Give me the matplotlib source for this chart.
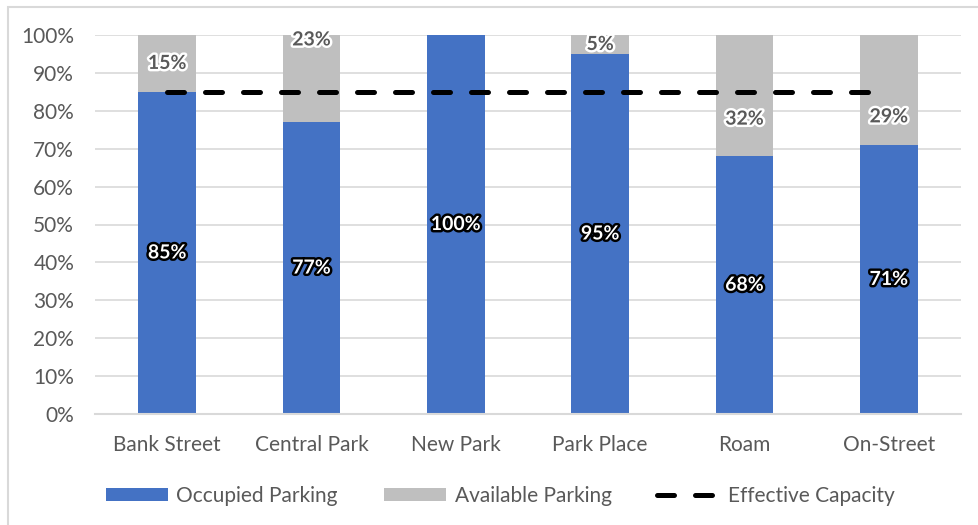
import matplotlib
matplotlib.use('Agg')
import matplotlib.pyplot as plt
import matplotlib.patheffects as pe
from matplotlib.patches import Rectangle
import numpy as np

plt.rcParams['font.family'] = ['Lato', 'DejaVu Sans']

# parking occupancy by lot (percent)
lots = ['Bank Street', 'Central Park', 'New Park', 'Park Place', 'Roam', 'On-Street']
occupied = [85, 77, 100, 95, 68, 71]
available = [15, 23, 0, 5, 32, 29]
effective_capacity = 85

# nudges (percentage points) to keep available labels clear of the capacity line
avail_label_shift = [0, 10.2, 0, 0, -6.2, -7.1]

BLUE = '#4472C4'
GREY = '#BFBFBF'
TEXT = '#595959'

fig = plt.figure(figsize=(9.79, 5.25), dpi=100)
# outer chart border
fig.add_artist(Rectangle((8 / 979, -0.01), 1.0, (525 - 7) / 525 + 0.01,
                         transform=fig.transFigure, fill=False,
                         edgecolor='#D9D9D9', linewidth=1.5))

ax = fig.add_axes([95 / 979, 1 - 414 / 525, 866 / 979, 379 / 525])

x = np.arange(len(lots))
occ = np.array(occupied) / 100.0
avl = np.array(available) / 100.0

ax.bar(x, occ, width=0.4, color=BLUE, label='Occupied Parking', zorder=2)
ax.bar(x, avl, width=0.4, bottom=occ, color=GREY, label='Available Parking', zorder=2)
ax.plot([x[0], x[-1]], [effective_capacity / 100.0] * 2, color='black',
        linestyle=(0, (3.4, 4.2)), linewidth=3.6, dash_capstyle='round',
        label='Effective Capacity', zorder=3)

for i in range(len(lots)):
    ax.text(x[i], occ[i] / 2, '%d%%' % occupied[i], ha='center', va='center',
            color='white', fontsize=14, fontweight='bold', zorder=4,
            path_effects=[pe.withStroke(linewidth=3.5, foreground='black')])
    if available[i] > 0:
        y = occ[i] + avl[i] / 2 + avail_label_shift[i] / 100.0
        ax.text(x[i], y, '%d%%' % available[i], ha='center',
                va='center', color=TEXT, fontsize=14, fontweight='bold', zorder=4,
                path_effects=[pe.withStroke(linewidth=3.5, foreground='white')])

ax.set_xlim(-0.5, len(lots) - 0.5)
ax.set_ylim(0, 1.0)
ax.set_yticks(np.arange(0, 1.01, 0.1))
ax.set_yticklabels(['%d%%' % v for v in range(0, 101, 10)])
ax.set_xticks(x)
ax.set_xticklabels(lots)
ax.yaxis.grid(True, color='#D9D9D9', linewidth=1.2, zorder=0)
ax.set_axisbelow(True)
for s in ['top', 'right', 'left']:
    ax.spines[s].set_visible(False)
ax.spines['bottom'].set_color('#D9D9D9')
ax.spines['bottom'].set_linewidth(1.5)
ax.tick_params(axis='both', length=0, labelsize=15, labelcolor=TEXT)
ax.tick_params(axis='y', pad=15)
ax.tick_params(axis='x', pad=15)

handles, labels = ax.get_legend_handles_labels()
order = [1, 2, 0]
ax.legend([handles[k] for k in order], [labels[k] for k in order],
          loc='upper center', bbox_to_anchor=(0.468, -0.14), ncol=3, frameon=False,
          fontsize=15, labelcolor=TEXT, handlelength=3.0, handleheight=0.6,
          columnspacing=2.2, handletextpad=0.4)

fig.savefig('out.png', dpi=100)
